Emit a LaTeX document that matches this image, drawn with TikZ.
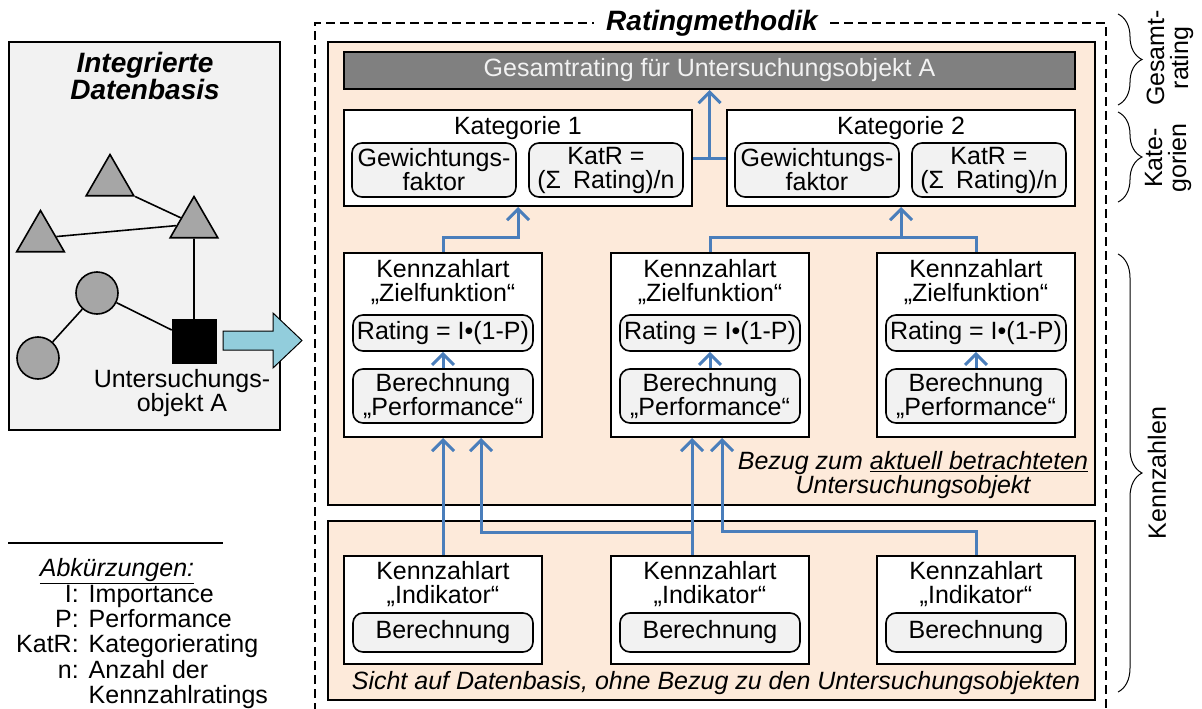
\documentclass[tikz,border=0pt]{standalone}
\usepackage{fontspec}
\setmainfont{Liberation Sans}
\usetikzlibrary{arrows.meta,shapes.geometric,decorations.pathreplacing}
\definecolor{peach}{HTML}{FDEADA}
\definecolor{panelgray}{HTML}{F2F2F2}
\definecolor{shapegray}{HTML}{A6A6A6}
\definecolor{linkblue}{HTML}{4A7EBB}
\definecolor{arrowblue}{HTML}{92CDDC}

\begin{document}
\begin{tikzpicture}[x=1pt,y=-1pt,font=\fontsize{25}{24}\selectfont,
    panel/.style={draw,line width=2,fill=peach,inner sep=0},
    box/.style={draw,line width=2,fill=white,inner sep=0},
    rbox/.style={draw,line width=1.6,fill=panelgray,rounded corners=10,inner sep=0,align=center},
    link/.style={draw=linkblue,line width=3},
    tri/.style={regular polygon,regular polygon sides=3,draw,line width=1.6,fill=shapegray,minimum size=55,inner sep=0},
    dot/.style={circle,draw,line width=1.6,fill=shapegray,minimum size=42,inner sep=0},
    heading/.style={font=\fontsize{28}{26}\selectfont\bfseries\itshape,align=center},
    note/.style={font=\fontsize{25}{24}\selectfont\itshape,align=center},
    >={Straight Barb[length=11pt,width=22pt]}]
    \useasboundingbox (0,0) rectangle (1202,709);

    \node[draw,line width=1.5,fill=panelgray,minimum width=271,minimum height=388,inner sep=0] (datenbasis) at (144.5,236) {};
    \node[heading] (dbtitle) at (145,76) {Integrierte\\Datenbasis};
    \node[tri] (tria) at (110,182) {};
    \node[tri] (trib) at (40.5,238) {};
    \node[tri] (tric) at (194,224) {};
    \node[dot] (dota) at (97,293) {};
    \node[dot] (dotb) at (38,358) {};
    \node[draw,fill=black,minimum size=44,inner sep=0] (objA) at (194,341) {};
    \node[align=center] (objAlabel) at (182,393) {Untersuchungs-\\objekt A};
    \draw[line width=1.6] (tria.corner 3) -- (tric) (trib) -- (tric) (tric) -- (objA) (dotb) -- (dota) (dota) -- (objA);
    \draw[fill=arrowblue,line width=1] (223,331) -- (273,331) -- (273,313) -- (302,340.5) -- (273,368) -- (273,350) -- (223,350) -- cycle;

    \draw[line width=1.5,dash pattern=on 9pt off 5pt] (315,712) -- (315,23) -- (1106,23) -- (1106,712);
    \node[heading,fill=white,inner xsep=12,inner ysep=0] (methodik) at (712,23) {Ratingmethodik};
    \node[panel,minimum width=767,minimum height=463] (upper) at (711.5,273.5) {};
    \node[panel,minimum width=767,minimum height=179] (lower) at (711.5,610.5) {};
    \node[draw,line width=2,fill=gray,text=panelgray,minimum width=731,minimum height=37,inner sep=0] (gesamt) at (709.5,70.5) {Gesamtrating für Untersuchungsobjekt A};

    \node[box,minimum width=348,minimum height=96] (kat1) at (518,158) {};
    \node (kat1title) at (518,128) {Kategorie 1};
    \node[rbox,minimum width=164,minimum height=54] (kat1w) at (434,170) {Gewichtungs-\\faktor};
    \node[rbox,minimum width=154,minimum height=54] (kat1r) at (606,170) {KatR =\\(Σ\hspace{12pt}Rating)/n};
    \node[box,minimum width=348,minimum height=96] (kat2) at (901,158) {};
    \node (kat2title) at (901,128) {Kategorie 2};
    \node[rbox,minimum width=164,minimum height=54] (kat2w) at (817,170) {Gewichtungs-\\faktor};
    \node[rbox,minimum width=154,minimum height=54] (kat2r) at (989,170) {KatR =\\(Σ\hspace{12pt}Rating)/n};

    \foreach \x [count=\n] in {443,710,976} {
        \node[box,minimum width=198,minimum height=184] (ziel\n) at (\x,345) {};
        \node[align=center] (zieltitle\n) at (\x,282) {Kennzahlart\\„Zielfunktion“};
        \node[rbox,minimum width=180,minimum height=36] (rating\n) at (\x,333) {Rating = I•(1-P)};
        \node[rbox,minimum width=180,minimum height=54] (perf\n) at (\x,396) {Berechnung\\„Performance“};
        \draw[link,->] (perf\n) -- (rating\n);
        \node[box,minimum width=198,minimum height=108] (ind\n) at (\x,610) {};
        \node[align=center] (indtitle\n) at (\x,584.5) {Kennzahlart\\„Indikator“};
        \node[rbox,minimum width=180,minimum height=39] (calc\n) at (\x,632.5) {Berechnung};
    }
    \node[note] (bezug) at (913,475) {Bezug zum \underline{aktuell betrachteten}\\Untersuchungsobjekt};
    \node[note] (sicht) at (716,683) {Sicht auf Datenbasis, ohne Bezug zu den Untersuchungsobjekten};

    \draw[link] (kat1.east) -- (kat2.west);
    \draw[link,->] (gesamt.south |- kat1.east) -- (gesamt.south);
    \draw[link,->] (ziel1.north) -- ++(0,-15) -| (kat1.south);
    \draw[link] (ziel2.north) -- ++(0,-15) coordinate (zielbar) -| (ziel3.north);
    \draw[link,->] (zielbar -| kat2.south) -- (kat2.south);
    \draw[link,->] (ind1.north) -- (ziel1.south);
    \draw[link,->] ([xshift=-18]ind2.north) -- ([xshift=-18]ziel2.south);
    \draw[link,->] ([xshift=-18]ind2.north) ++(0,-23) -| ([xshift=38]ziel1.south);
    \draw[link,->] (ind3.north) -- ++(0,-24) -| ([xshift=12]ziel2.south);

    \draw[line width=1,decorate,decoration={brace,amplitude=24pt}] (1118,14) -- (1118,105);
    \draw[line width=1,decorate,decoration={brace,amplitude=24pt}] (1118,112) -- (1118,202);
    \draw[line width=1,decorate,decoration={brace,amplitude=24pt}] (1118,254) -- (1118,692);
    \node[rotate=90,align=center] (gesamtlabel) at (1170,58) {Gesamt-\\rating};
    \node[rotate=90,align=center] (katlabel) at (1168,158) {Kate-\\gorien};
    \node[rotate=90] (kennzlabel) at (1157,473) {Kennzahlen};

    \draw[line width=2] (8,543) -- (223,543);
    \node[note] (abk) at (117,571) {\underline{Abkürzungen:}};
    \node[anchor=west,inner sep=0] (abklist) at (16,648) {\begin{tabular}{@{}r@{\hspace{10pt}}l@{}}I:&Importance\\P:&Performance\\KatR:&Kategorierating\\n:&Anzahl der\\&Kennzahlratings\end{tabular}};
\end{tikzpicture}
\end{document}
